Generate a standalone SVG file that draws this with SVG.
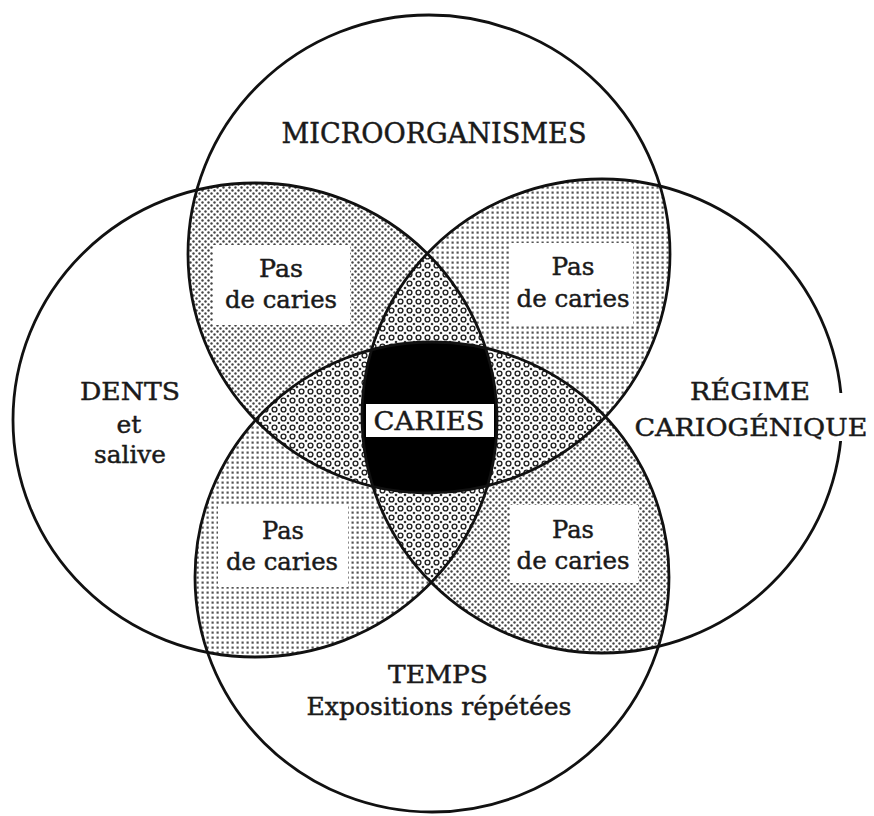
<svg xmlns="http://www.w3.org/2000/svg" xmlns:xlink="http://www.w3.org/1999/xlink" width="874" height="816" viewBox="0 0 874 816">
<style>
.ring{fill:none;stroke:#111;stroke-width:2.8}
.t{font-family:"DejaVu Serif","Liberation Serif",serif;fill:#1a1a1a;stroke:#1a1a1a;stroke-width:0.45;text-anchor:middle}
.lab{font-size:25px}
.pas{font-size:24px}
.box{fill:#fff}
</style>
<defs>
<pattern id="pDots" patternUnits="userSpaceOnUse" width="6" height="6">
<rect width="6" height="6" fill="#fff"/>
<circle cx="1.5" cy="1.5" r="1.2" fill="#444"/>
<circle cx="4.5" cy="4.5" r="1.2" fill="#444"/>
</pattern>
<pattern id="pGrid" patternUnits="userSpaceOnUse" width="5" height="5">
<rect width="5" height="5" fill="#fff"/>
<rect x="1.5" y="1.5" width="2.2" height="2.2" fill="#555"/>
</pattern>
<pattern id="pRing" patternUnits="userSpaceOnUse" width="9" height="9">
<rect width="9" height="9" fill="#fff"/>
<circle cx="4.5" cy="4.5" r="2.4" fill="none" stroke="#222" stroke-width="1.4"/>
<circle cx="0" cy="0" r="1.3" fill="#333"/>
<circle cx="9" cy="0" r="1.3" fill="#333"/>
<circle cx="0" cy="9" r="1.3" fill="#333"/>
<circle cx="9" cy="9" r="1.3" fill="#333"/>
</pattern>
<ellipse id="eT" cx="429" cy="254" rx="241" ry="239"/>
<ellipse id="eL" cx="255" cy="420" rx="242" ry="237"/>
<ellipse id="eR" cx="602" cy="416" rx="240" ry="237"/>
<ellipse id="eB" cx="432" cy="577" rx="237" ry="235"/>
<clipPath id="cT"><use xlink:href="#eT"/></clipPath>
<clipPath id="cL"><use xlink:href="#eL"/></clipPath>
<clipPath id="cR"><use xlink:href="#eR"/></clipPath>
<clipPath id="cB"><use xlink:href="#eB"/></clipPath>
</defs>
<rect width="874" height="816" fill="#fff"/>
<g id="regions">
<g clip-path="url(#cL)"><use xlink:href="#eT" fill="url(#pDots)"/></g>
<g clip-path="url(#cR)"><use xlink:href="#eT" fill="url(#pGrid)"/></g>
<g clip-path="url(#cL)"><use xlink:href="#eB" fill="url(#pGrid)"/></g>
<g clip-path="url(#cR)"><use xlink:href="#eB" fill="url(#pDots)"/></g>
<g clip-path="url(#cL)"><g clip-path="url(#cR)"><use xlink:href="#eT" fill="url(#pRing)"/></g></g>
<g clip-path="url(#cL)"><g clip-path="url(#cB)"><use xlink:href="#eT" fill="url(#pRing)"/></g></g>
<g clip-path="url(#cR)"><g clip-path="url(#cB)"><use xlink:href="#eT" fill="url(#pRing)"/></g></g>
<g clip-path="url(#cL)"><g clip-path="url(#cR)"><use xlink:href="#eB" fill="url(#pRing)"/></g></g>
<g clip-path="url(#cL)"><g clip-path="url(#cR)"><g clip-path="url(#cB)"><use xlink:href="#eT" fill="#000"/></g></g></g>
<rect class="box" x="213" y="245" width="137" height="80"/>
<rect class="box" x="510" y="243" width="123" height="82"/>
<rect class="box" x="218" y="505" width="130" height="82"/>
<rect class="box" x="510" y="505" width="128" height="78"/>
</g>
<g id="microorganismes">
<use xlink:href="#eT" class="ring"/>
<text class="t" x="434" y="143" font-size="27" textLength="305" lengthAdjust="spacingAndGlyphs">MICROORGANISMES</text>
</g>
<g id="dents">
<use xlink:href="#eL" class="ring"/>
<text class="t lab" x="130" y="400" textLength="100" lengthAdjust="spacingAndGlyphs">DENTS</text>
<text class="t lab" x="129" y="433">et</text>
<text class="t lab" x="130" y="463" textLength="72" lengthAdjust="spacingAndGlyphs">salive</text>
</g>
<g id="regime">
<use xlink:href="#eR" class="ring"/>
<rect x="834" y="393" width="16" height="48" fill="#fff"/>
<text class="t lab" x="750" y="400" textLength="120" lengthAdjust="spacingAndGlyphs">RÉGIME</text>
<text class="t lab" x="751" y="436" textLength="233" lengthAdjust="spacingAndGlyphs">CARIOGÉNIQUE</text>
</g>
<g id="temps">
<use xlink:href="#eB" class="ring"/>
<text class="t lab" x="438" y="683" textLength="100" lengthAdjust="spacingAndGlyphs">TEMPS</text>
<text class="t lab" x="439" y="715" textLength="265" lengthAdjust="spacingAndGlyphs">Expositions répétées</text>
</g>
<g id="pas-tl">
<text class="t pas" x="281" y="277" textLength="44" lengthAdjust="spacingAndGlyphs">Pas</text>
<text class="t pas" x="281" y="308" textLength="112" lengthAdjust="spacingAndGlyphs">de caries</text>
</g>
<g id="pas-tr">
<text class="t pas" x="573" y="275" textLength="43" lengthAdjust="spacingAndGlyphs">Pas</text>
<text class="t pas" x="573" y="307" textLength="113" lengthAdjust="spacingAndGlyphs">de caries</text>
</g>
<g id="pas-bl">
<text class="t pas" x="283" y="539" textLength="42" lengthAdjust="spacingAndGlyphs">Pas</text>
<text class="t pas" x="282" y="570" textLength="112" lengthAdjust="spacingAndGlyphs">de caries</text>
</g>
<g id="pas-br">
<text class="t pas" x="573" y="538" textLength="42" lengthAdjust="spacingAndGlyphs">Pas</text>
<text class="t pas" x="573" y="569" textLength="113" lengthAdjust="spacingAndGlyphs">de caries</text>
</g>
<g id="caries">
<rect x="366" y="404" width="128" height="33" fill="#fff"/>
<text class="t" x="429" y="430" font-size="26" textLength="111" lengthAdjust="spacingAndGlyphs">CARIES</text>
</g>
</svg>
